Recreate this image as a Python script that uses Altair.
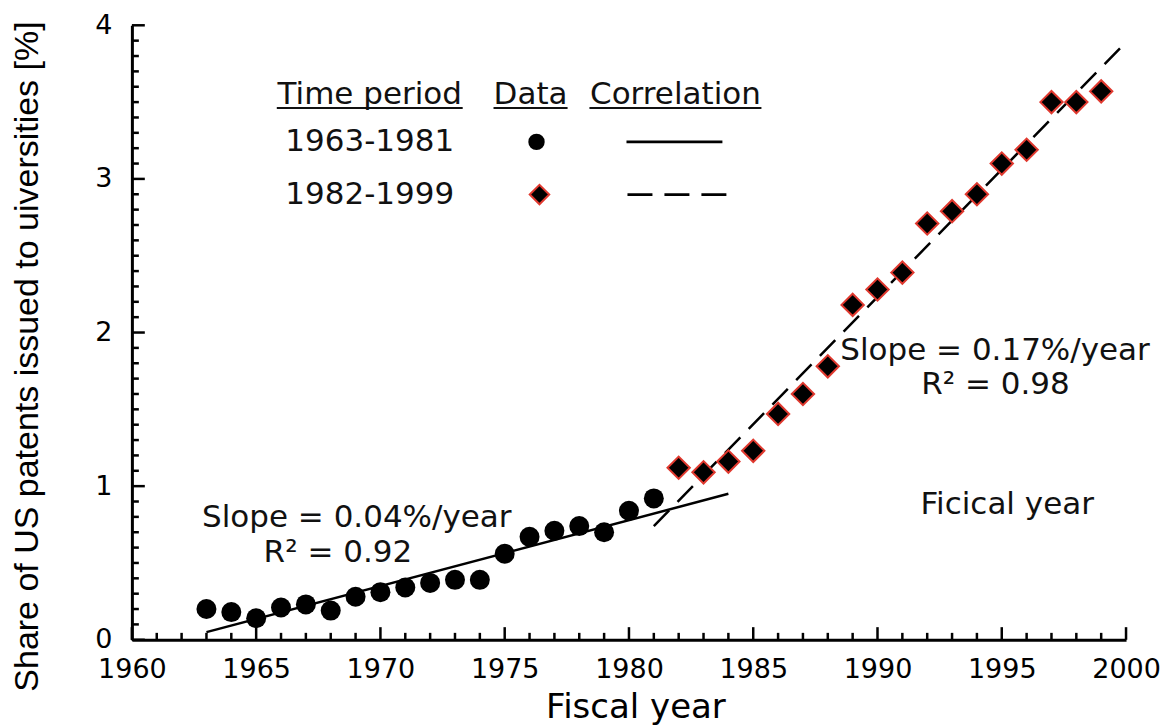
import altair as alt
import pandas as pd

# ---------------- data ----------------
years_a = [1963, 1964, 1965, 1966, 1967, 1968, 1969, 1970, 1971, 1972,
           1973, 1974, 1975, 1976, 1977, 1978, 1979, 1980, 1981]
share_a = [0.20, 0.18, 0.14, 0.21, 0.23, 0.19, 0.28, 0.31, 0.34, 0.37,
           0.39, 0.39, 0.56, 0.67, 0.71, 0.74, 0.70, 0.84, 0.92]

years_b = [1982, 1983, 1984, 1985, 1986, 1987, 1988, 1989, 1990, 1991,
           1992, 1993, 1994, 1995, 1996, 1997, 1998, 1999]
share_b = [1.12, 1.09, 1.16, 1.23, 1.47, 1.60, 1.78, 2.18, 2.28, 2.39,
           2.71, 2.79, 2.90, 3.10, 3.19, 3.50, 3.50, 3.57]

fit_a_years = [1963, 1984]
fit_a_share = [0.05, 0.95]
fit_b_years = [1981, 2000]
fit_b_share = [0.74, 3.89]

x_label_values = [1960, 1965, 1970, 1975, 1980, 1985, 1990, 1995, 2000]
y_label_values = [0, 1, 2, 3, 4]
x_tick_values = list(range(1960, 2001))
y_tick_values = [round(v * 0.1, 1) for v in range(0, 41)]

annot_text = ["Slope = 0.04%/year", "Slope = 0.17%/year", "Ficical year"]
annot_x = [1969.05, 1994.73, 1995.22]
annot_y = [0.731, 1.824, 0.821]

r2_text = ["R\u00b2  = 0.92", "R\u00b2 = 0.98"]
r2_x = [1965.3, 1991.76]
r2_y = [0.505, 1.598]

head_text = ["Time period", "Data", "Correlation"]
head_x = [1969.57, 1976.04, 1981.87]
head_y = [3.486, 3.486, 3.486]
under_x1 = [1965.83, 1974.55, 1978.41]
under_x2 = [1973.31, 1977.53, 1985.33]
under_y = [3.462, 3.462, 3.462]

row_text = ["1963-1981", "1982-1999"]
row_x = [1969.57, 1969.57]
row_y = [3.241, 2.898]
sym_x = [1976.28, 1976.40]
line_x1 = [1979.90, 1979.94]
line_x2 = [1983.76, 1983.96]

FONT = "DejaVu Sans"
INK = "#111111"

W, H = 995, 615

xs = alt.Scale(domain=[1960, 2000], nice=False, zero=False)
ys = alt.Scale(domain=[0, 4], nice=False, zero=True)

x_axis = alt.Axis(values=x_label_values, format="d", title="Fiscal year",
                  ticks=False, grid=False, domainColor="black", domainWidth=3,
                  labelFont=FONT, labelFontSize=27, labelColor="black",
                  labelPadding=17, labelFlush=False, labelOverlap=False,
                  titleFont=FONT, titleFontSize=34, titleColor="black",
                  titleFontWeight="normal", titleX=504, titleY=78,
                  titleBaseline="alphabetic", titleAlign="center")
y_axis = alt.Axis(values=y_label_values, format="d",
                  title="Share of US patents issued to uiversities [%]",
                  ticks=False, grid=False, domainColor="black", domainWidth=3,
                  labelFont=FONT, labelFontSize=27, labelColor="black",
                  labelPadding=20, labelFlush=False, labelOverlap=False,
                  titleFont="Liberation Sans", titleFontSize=34, titleColor="black",
                  titleFontWeight="normal", titleX=-104, titleY=331,
                  titleAngle=270, titleBaseline="middle", titleAlign="center")

X = alt.X("x:Q", scale=xs, axis=x_axis)
Y = alt.Y("y:Q", scale=ys, axis=y_axis)

df_a = pd.DataFrame({"x": years_a, "y": share_a})
df_b = pd.DataFrame({"x": years_b, "y": share_b})
df_fa = pd.DataFrame({"x": fit_a_years, "y": fit_a_share})
df_fb = pd.DataFrame({"x": fit_b_years, "y": fit_b_share})

# inward axis ticks
df_xt = pd.DataFrame({"x": x_tick_values})
df_xt["y"] = 0.0
df_xt["y2"] = [0.082 if v % 5 == 0 else 0.045 for v in x_tick_values]
df_yt = pd.DataFrame({"y": y_tick_values})
df_yt["x"] = 1960.0
df_yt["x2"] = [1960.52 if abs(v - round(v)) < 1e-9 else 1960.28 for v in y_tick_values]

xticks = alt.Chart(df_xt).mark_rule(color="black", strokeWidth=2.5).encode(
    x=X, y=Y, y2="y2:Q")
yticks = alt.Chart(df_yt).mark_rule(color="black", strokeWidth=2.5).encode(
    x=X, x2="x2:Q", y=Y)

fit_a = alt.Chart(df_fa).mark_line(color="black", strokeWidth=2.5).encode(x=X, y=Y)
fit_b = alt.Chart(df_fb).mark_line(color="black", strokeWidth=2.5,
                                   strokeDash=[22, 12]).encode(x=X, y=Y)

pts_a = alt.Chart(df_a).mark_point(shape="circle", filled=True, color="black",
                                   size=400, opacity=1).encode(x=X, y=Y)
pts_b = alt.Chart(df_b).mark_point(shape="diamond", filled=True, fill="black",
                                   stroke="#e0392f", strokeWidth=2, size=500,
                                   opacity=1).encode(x=X, y=Y)

df_annot = pd.DataFrame({"x": annot_x, "y": annot_y, "t": annot_text})
annot = alt.Chart(df_annot).mark_text(font=FONT, fontSize=31, color=INK,
                                      align="center", baseline="alphabetic").encode(
    x=X, y=Y, text="t:N")
df_r2 = pd.DataFrame({"x": r2_x, "y": r2_y, "t": r2_text})
r2 = alt.Chart(df_r2).mark_text(font=FONT, fontSize=31, color=INK,
                                align="left", baseline="alphabetic").encode(
    x=X, y=Y, text="t:N")

df_head = pd.DataFrame({"x": head_x, "y": head_y, "t": head_text})
heads = alt.Chart(df_head).mark_text(font=FONT, fontSize=31, color=INK,
                                     align="center", baseline="alphabetic").encode(
    x=X, y=Y, text="t:N")
df_under = pd.DataFrame({"x": under_x1, "x2": under_x2, "y": under_y})
unders = alt.Chart(df_under).mark_rule(color=INK, strokeWidth=2).encode(
    x=X, x2="x2:Q", y=Y)

df_rows = pd.DataFrame({"x": row_x, "y": row_y, "t": row_text})
rows = alt.Chart(df_rows).mark_text(font=FONT, fontSize=31, color=INK,
                                    align="center", baseline="middle").encode(
    x=X, y=Y, text="t:N")
leg_c = alt.Chart(pd.DataFrame({"x": [sym_x[0]], "y": [row_y[0]]})).mark_point(
    shape="circle", filled=True, color="black", size=270, opacity=1).encode(x=X, y=Y)
leg_d = alt.Chart(pd.DataFrame({"x": [sym_x[1]], "y": [row_y[1]]})).mark_point(
    shape="diamond", filled=True, fill="black", stroke="#e0392f", strokeWidth=2,
    size=380, opacity=1).encode(x=X, y=Y)
leg_l1 = alt.Chart(pd.DataFrame({"x": [line_x1[0]], "x2": [line_x2[0]], "y": [row_y[0]]})).mark_rule(
    color="black", strokeWidth=2.7).encode(x=X, x2="x2:Q", y=Y)
leg_l2 = alt.Chart(pd.DataFrame({"x": [line_x1[1]], "x2": [line_x2[1]], "y": [row_y[1]]})).mark_rule(
    color="black", strokeWidth=2.7, strokeDash=[25, 12]).encode(x=X, x2="x2:Q", y=Y)

chart = alt.layer(
    xticks, yticks, fit_a, fit_b, pts_a, pts_b, annot, r2, heads, unders,
    rows, leg_c, leg_d, leg_l1, leg_l2
).properties(
    width=W, height=H,
    autosize=alt.AutoSizeParams(type="none"),
    padding={"left": 124, "top": 17, "right": 40, "bottom": 86},
    background="white",
).configure_view(stroke=None)

chart.save("out.html", embed_options={"renderer": "svg", "actions": False})
